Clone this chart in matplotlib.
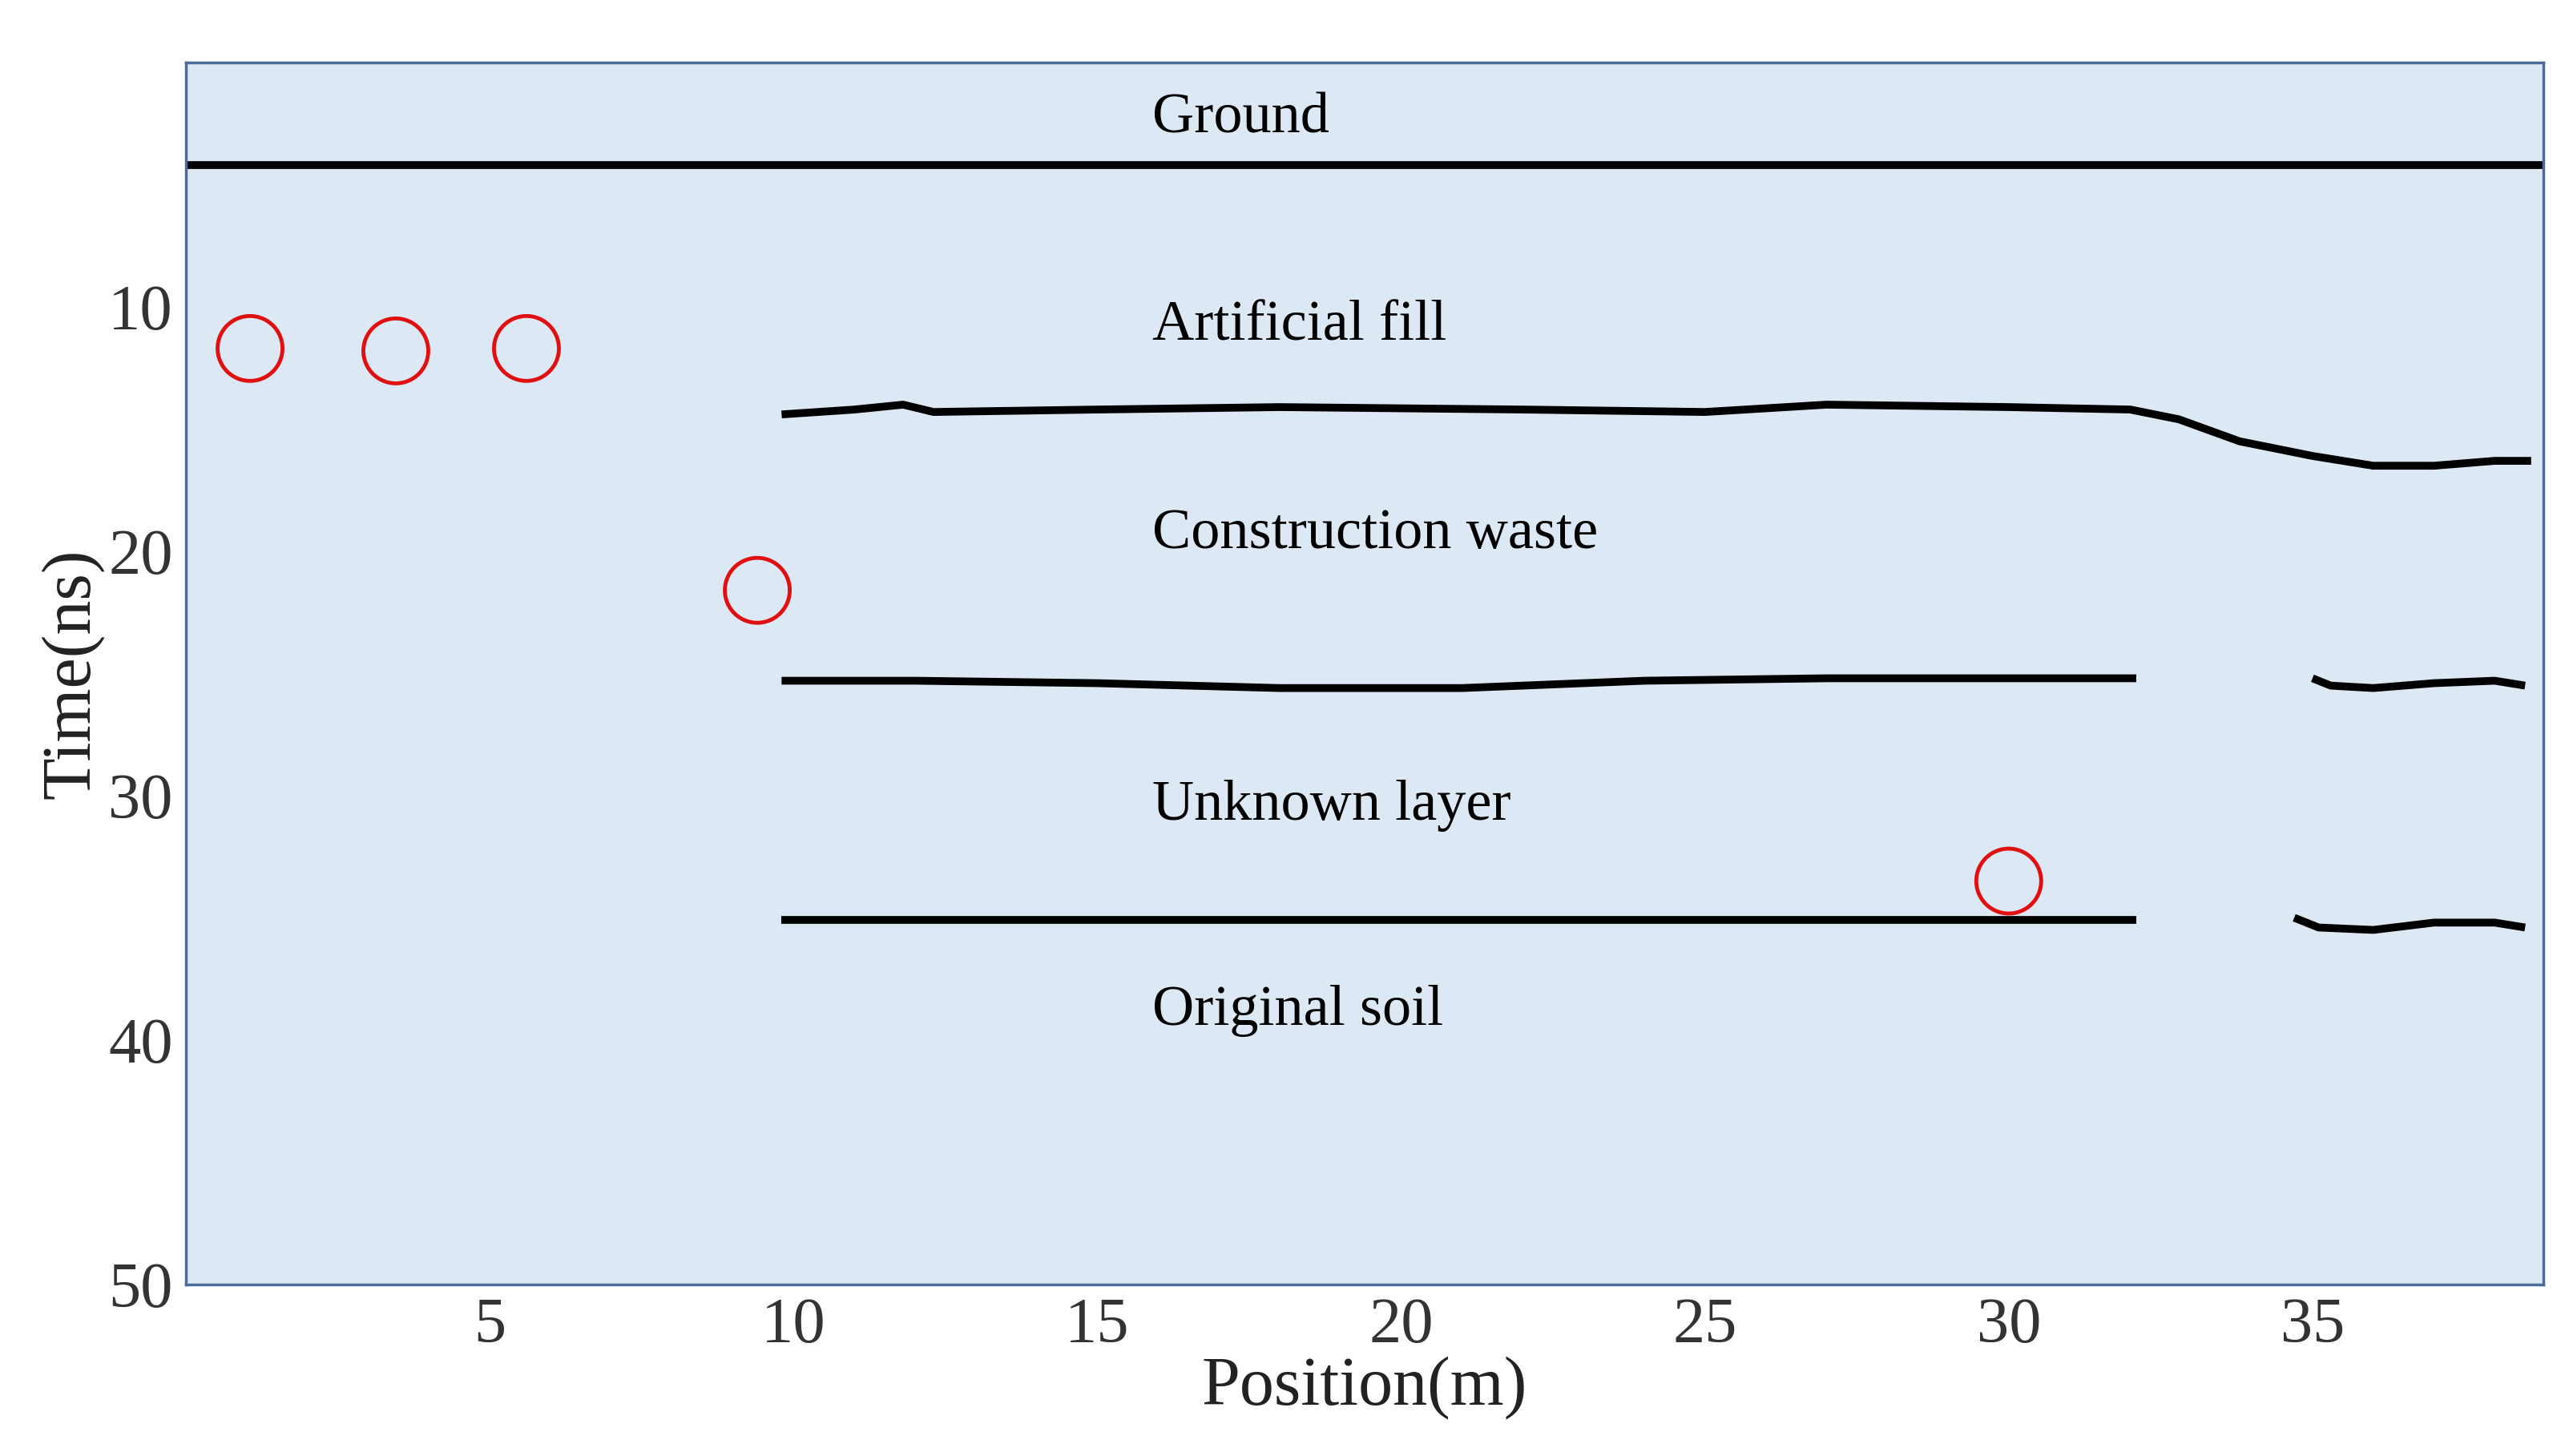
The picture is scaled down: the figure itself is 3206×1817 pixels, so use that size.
import matplotlib
matplotlib.use("Agg")
import matplotlib.pyplot as plt

plt.rcParams['font.family'] = ['Liberation Serif', 'DejaVu Serif']

ground_x = [0, 38.8]; ground_y = [4.2, 4.2]
fill_x = [9.8, 11, 11.8, 12.3, 15, 18, 22, 25, 27, 30, 32, 32.8, 33.8, 35, 36, 37, 38, 38.6]
fill_y = [14.4, 14.2, 14.0, 14.3, 14.2, 14.1, 14.2, 14.3, 14.0, 14.1, 14.2, 14.6, 15.5, 16.1, 16.5, 16.5, 16.3, 16.3]
waste1_x = [9.8, 12, 15, 18, 21, 24, 27, 30, 32.1]
waste1_y = [25.3, 25.3, 25.4, 25.6, 25.6, 25.3, 25.2, 25.2, 25.2]
waste2_x = [35.0, 35.3, 36, 37, 38, 38.5]
waste2_y = [25.2, 25.5, 25.6, 25.4, 25.3, 25.5]
unk1_x = [9.8, 32.1]; unk1_y = [35.1, 35.1]
unk2_x = [34.7, 35.1, 36, 37, 38, 38.5]
unk2_y = [35.0, 35.4, 35.5, 35.2, 35.2, 35.4]
circ_x = [1.05, 3.45, 5.6, 9.4, 30.0]
circ_y = [11.7, 11.8, 11.7, 21.6, 33.5]
labels = ["Ground", "Artificial fill", "Construction waste", "Unknown layer", "Original soil"]
label_y = [2.3, 10.8, 19.3, 30.4, 38.8]

fig = plt.figure(figsize=(32.06, 18.17), dpi=100)
ax = fig.add_axes([0.0725, 0.118, 0.9175, 0.839])
ax.set_facecolor('#dde8f5')
for s in ax.spines.values():
    s.set_color('#4a6a9a'); s.set_linewidth(2.5)
lw = 7
for xs, ys in [(ground_x, ground_y), (fill_x, fill_y), (waste1_x, waste1_y), (waste2_x, waste2_y), (unk1_x, unk1_y), (unk2_x, unk2_y)]:
    ax.plot(xs, ys, color='black', lw=lw, solid_capstyle='butt')
ax.scatter(circ_x, circ_y, s=3400, facecolors='none', edgecolors='#e01010', linewidths=3.5, zorder=5)
for t, y in zip(labels, label_y):
    ax.text(15.9, y, t, fontsize=52, va='center', ha='left')
ax.set_xlim(0, 38.8); ax.set_ylim(50, 0)
ax.set_xticks([5, 10, 15, 20, 25, 30, 35])
ax.set_yticks([10, 20, 30, 40, 50])
ax.tick_params(length=0, labelsize=58, colors='#333333', pad=12)
ax.set_xlabel('Position(m)', fontsize=62, labelpad=0, color='#222222')
ax.set_ylabel('Time(ns)', fontsize=62, labelpad=4, color='#222222')
fig.savefig('out.png', dpi=100)
